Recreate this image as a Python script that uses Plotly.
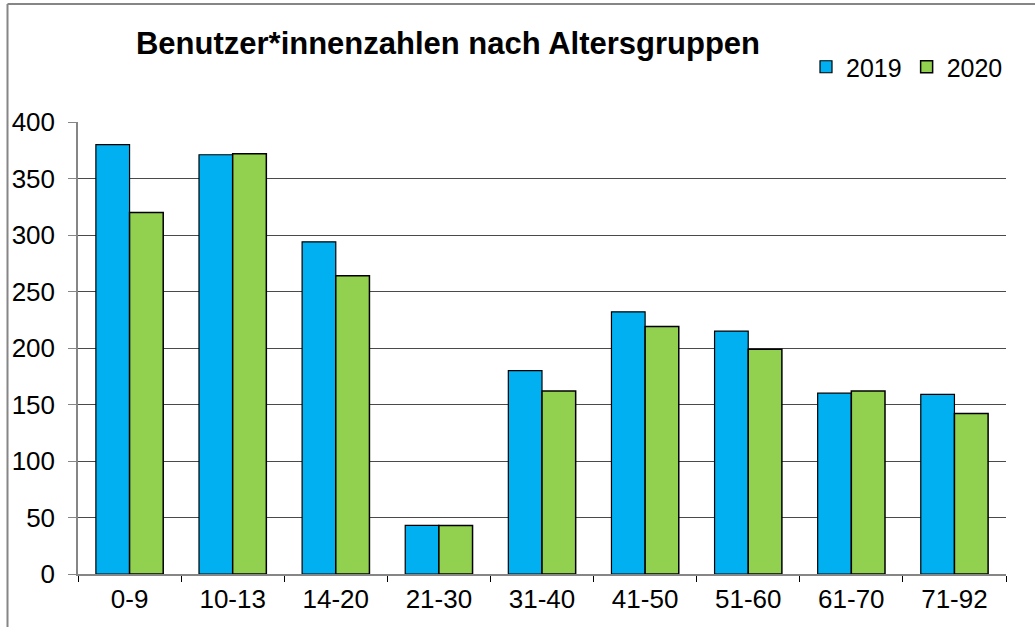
import plotly.graph_objects as go

categories = ["0-9", "10-13", "14-20", "21-30", "31-40", "41-50", "51-60", "61-70", "71-92"]
values_2019 = [380, 371, 294, 43, 180, 232, 215, 160, 159]
values_2020 = [320, 372, 264, 43, 162, 219, 199, 162, 142]
y_ticks = [0, 50, 100, 150, 200, 250, 300, 350, 400]

FONT = "Liberation Sans, Arial, sans-serif"

fig = go.Figure()
fig.add_trace(go.Bar(name="2019", x=categories, y=values_2019,
                     marker=dict(color="#00B0F0", line=dict(color="#000000", width=1.2))))
fig.add_trace(go.Bar(name="2020", x=categories, y=values_2020,
                     marker=dict(color="#92D050", line=dict(color="#000000", width=1.5))))

W, H = 1035, 627
L, R, T, B = 78, 29, 122, 53
pw = W - L - R
ph = H - T - B

def px_x(x):
    return (x - L) / pw

def px_y(y):
    return (H - B - y) / ph

fig.update_layout(
    width=W, height=H,
    margin=dict(l=L, r=R, t=T, b=B, autoexpand=False),
    paper_bgcolor="white", plot_bgcolor="white",
    font=dict(family=FONT, size=25, color="#000000"),
    barmode="group", bargap=0.347, bargroupgap=0,
    title=dict(text="<b>Benutzer*innenzahlen nach Altersgruppen</b>",
               font=dict(family=FONT, size=31, color="#000000"),
               x=px_x(448), xanchor="center", xref="paper",
               y=1 - 43 / H, yanchor="middle", yref="container"),
    legend=dict(orientation="h", x=px_x(1008), xanchor="right",
                y=px_y(67), yanchor="middle",
                font=dict(family=FONT, size=25, color="#000000"),
                itemwidth=30, tracegroupgap=0, bgcolor="rgba(0,0,0,0)"),
    xaxis=dict(type="category", showline=True, linecolor="#868686", linewidth=1.5,
               ticks="outside", tickson="boundaries", ticklen=6, tickcolor="#000000",
               tickwidth=1, showgrid=False, tickfont=dict(size=26),
               ticklabelstandoff=1),
    yaxis=dict(range=[0, 400], tickvals=y_ticks, showline=True, linecolor="#868686",
               linewidth=1.5, ticks="outside", ticklen=8, tickcolor="#868686",
               showgrid=True, gridcolor="#4a4a4a", gridwidth=1, zeroline=False,
               tickfont=dict(size=26), ticklabelstandoff=8),
    shapes=[
        dict(type="line", xref="paper", yref="paper", x0=px_x(7.5), x1=px_x(1035),
             y0=px_y(4), y1=px_y(4), line=dict(color="#868686", width=2)),
        dict(type="line", xref="paper", yref="paper", x0=px_x(7.5), x1=px_x(7.5),
             y0=px_y(4), y1=px_y(627), line=dict(color="#868686", width=2)),
    ],
)

fig.write_html("out.html", config={"displayModeBar": False},
               post_script="document.body.style.margin='0px';")
